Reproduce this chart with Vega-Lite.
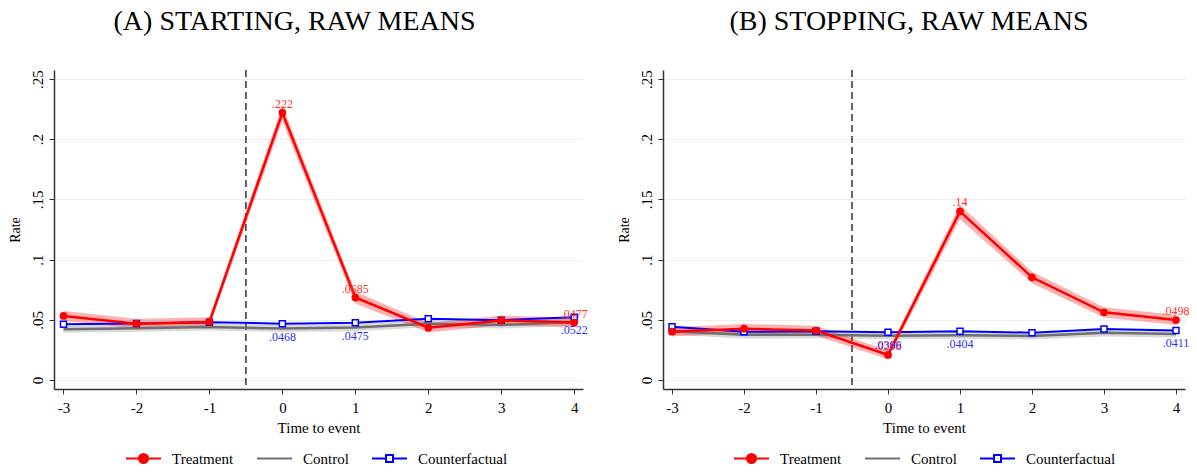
{
  "$schema": "https://vega.github.io/schema/vega-lite/v6.json",
  "padding": {"left": 8, "top": 8, "right": 0, "bottom": 0},
  "spacing": 29,
  "config": {
    "font": "Liberation Serif",
    "view": {"stroke": null},
    "axis": {"labelFont": "Liberation Serif", "titleFont": "Liberation Serif", "labelFontSize": 15, "titleFontSize": 15, "titleFontWeight": "normal", "domainColor": "#333333", "tickColor": "#333333", "labelColor": "#000000", "titleColor": "#000000", "domainWidth": 1.5},
    "title": {"font": "Liberation Serif", "fontSize": 28, "fontWeight": "normal", "color": "#000000", "anchor": "middle", "offset": 33}
  },
  "datasets": {
    "rates": [
      {"p": "A", "s": "Treatment", "t": -3, "y": 0.0532, "lo": 0.0492, "hi": 0.0572, "label": ""},
      {"p": "A", "s": "Treatment", "t": -2, "y": 0.0468, "lo": 0.0428, "hi": 0.0508, "label": ""},
      {"p": "A", "s": "Treatment", "t": -1, "y": 0.0482, "lo": 0.0442, "hi": 0.0522, "label": ""},
      {"p": "A", "s": "Treatment", "t": 0, "y": 0.222, "lo": 0.215, "hi": 0.228, "label": ".222"},
      {"p": "A", "s": "Treatment", "t": 1, "y": 0.0685, "lo": 0.0635, "hi": 0.0732, "label": ".0685"},
      {"p": "A", "s": "Treatment", "t": 2, "y": 0.0434, "lo": 0.0394, "hi": 0.0474, "label": ""},
      {"p": "A", "s": "Treatment", "t": 3, "y": 0.0495, "lo": 0.0455, "hi": 0.0535, "label": ""},
      {"p": "A", "s": "Treatment", "t": 4, "y": 0.0477, "lo": 0.0437, "hi": 0.0517, "label": ".0477"},
      {"p": "A", "s": "Control", "t": -3, "y": 0.0422, "lo": 0.0392, "hi": 0.0452, "label": ""},
      {"p": "A", "s": "Control", "t": -2, "y": 0.043, "lo": 0.04, "hi": 0.046, "label": ""},
      {"p": "A", "s": "Control", "t": -1, "y": 0.044, "lo": 0.041, "hi": 0.047, "label": ""},
      {"p": "A", "s": "Control", "t": 0, "y": 0.0428, "lo": 0.0398, "hi": 0.0458, "label": ""},
      {"p": "A", "s": "Control", "t": 1, "y": 0.0435, "lo": 0.0405, "hi": 0.0465, "label": ""},
      {"p": "A", "s": "Control", "t": 2, "y": 0.0468, "lo": 0.0438, "hi": 0.0498, "label": ""},
      {"p": "A", "s": "Control", "t": 3, "y": 0.0457, "lo": 0.0427, "hi": 0.0487, "label": ""},
      {"p": "A", "s": "Control", "t": 4, "y": 0.0482, "lo": 0.0452, "hi": 0.0512, "label": ""},
      {"p": "A", "s": "Counterfactual", "t": -3, "y": 0.0462, "label": ""},
      {"p": "A", "s": "Counterfactual", "t": -2, "y": 0.047, "label": ""},
      {"p": "A", "s": "Counterfactual", "t": -1, "y": 0.048, "label": ""},
      {"p": "A", "s": "Counterfactual", "t": 0, "y": 0.0468, "label": ".0468"},
      {"p": "A", "s": "Counterfactual", "t": 1, "y": 0.0475, "label": ".0475"},
      {"p": "A", "s": "Counterfactual", "t": 2, "y": 0.0508, "label": ""},
      {"p": "A", "s": "Counterfactual", "t": 3, "y": 0.0497, "label": ""},
      {"p": "A", "s": "Counterfactual", "t": 4, "y": 0.0522, "label": ".0522"},
      {"p": "B", "s": "Treatment", "t": -3, "y": 0.0401, "lo": 0.0363, "hi": 0.0439, "label": ""},
      {"p": "B", "s": "Treatment", "t": -2, "y": 0.0426, "lo": 0.0386, "hi": 0.0466, "label": ""},
      {"p": "B", "s": "Treatment", "t": -1, "y": 0.041, "lo": 0.037, "hi": 0.045, "label": ""},
      {"p": "B", "s": "Treatment", "t": 0, "y": 0.0208, "lo": 0.0173, "hi": 0.0243, "label": ".0208"},
      {"p": "B", "s": "Treatment", "t": 1, "y": 0.14, "lo": 0.1335, "hi": 0.1455, "label": ".14"},
      {"p": "B", "s": "Treatment", "t": 2, "y": 0.0853, "lo": 0.0803, "hi": 0.0898, "label": ""},
      {"p": "B", "s": "Treatment", "t": 3, "y": 0.0562, "lo": 0.0518, "hi": 0.0604, "label": ""},
      {"p": "B", "s": "Treatment", "t": 4, "y": 0.0498, "lo": 0.0456, "hi": 0.054, "label": ".0498"},
      {"p": "B", "s": "Control", "t": -3, "y": 0.0405, "lo": 0.0375, "hi": 0.0435, "label": ""},
      {"p": "B", "s": "Control", "t": -2, "y": 0.0375, "lo": 0.0345, "hi": 0.0405, "label": ""},
      {"p": "B", "s": "Control", "t": -1, "y": 0.0376, "lo": 0.0346, "hi": 0.0406, "label": ""},
      {"p": "B", "s": "Control", "t": 0, "y": 0.0368, "lo": 0.0338, "hi": 0.0398, "label": ""},
      {"p": "B", "s": "Control", "t": 1, "y": 0.0372, "lo": 0.0342, "hi": 0.0402, "label": ""},
      {"p": "B", "s": "Control", "t": 2, "y": 0.0366, "lo": 0.0336, "hi": 0.0396, "label": ""},
      {"p": "B", "s": "Control", "t": 3, "y": 0.0392, "lo": 0.0362, "hi": 0.0422, "label": ""},
      {"p": "B", "s": "Control", "t": 4, "y": 0.0382, "lo": 0.0352, "hi": 0.0412, "label": ""},
      {"p": "B", "s": "Counterfactual", "t": -3, "y": 0.0443, "label": ""},
      {"p": "B", "s": "Counterfactual", "t": -2, "y": 0.04, "label": ""},
      {"p": "B", "s": "Counterfactual", "t": -1, "y": 0.0405, "label": ""},
      {"p": "B", "s": "Counterfactual", "t": 0, "y": 0.0396, "label": ".0396"},
      {"p": "B", "s": "Counterfactual", "t": 1, "y": 0.0404, "label": ".0404"},
      {"p": "B", "s": "Counterfactual", "t": 2, "y": 0.0393, "label": ""},
      {"p": "B", "s": "Counterfactual", "t": 3, "y": 0.0424, "label": ""},
      {"p": "B", "s": "Counterfactual", "t": 4, "y": 0.0411, "label": ".0411"}
    ]
  },
  "resolve": {"scale": {"stroke": "independent"}, "legend": {"stroke": "independent"}},
  "hconcat": [
    {
      "width": 529,
      "height": 319,
      "title": {"text": "(A) STARTING, RAW MEANS", "dx": -24},
      "data": {"name": "rates"},
      "layer": [
        {
          "data": {"values": [{"event": -0.5}]},
          "mark": {"type": "rule", "strokeDash": [7, 4], "color": "#333333", "strokeWidth": 1.5},
          "encoding": {
            "x": {"field": "event", "type": "quantitative", "scale": {"domain": [-3.13, 4.12], "nice": false, "zero": false},
              "axis": {"values": [-3, -2, -1, 0, 1, 2, 3, 4], "grid": false, "title": "Time to event", "tickSize": 5, "labelPadding": 6, "titlePadding": 5, "labelExpr": "'' + datum.value"}}
          }
        },
        {
          "transform": [{"filter": "datum.p === 'A' && datum.s === 'Control'"}],
          "mark": {"type": "area", "color": "#808080", "opacity": 0.3},
          "encoding": {
            "x": {"field": "t", "type": "quantitative"},
            "y": {"field": "lo", "type": "quantitative", "scale": {"domain": [-0.0075, 0.2575], "nice": false, "zero": false},
              "axis": {"values": [0, 0.05, 0.1, 0.15, 0.2, 0.25], "labelExpr": "datum.value == 0 ? '0' : replace(format(datum.value, '.2~f'), '0.', '.')", "labelAngle": -90, "title": "Rate", "gridColor": "#eeeeee", "tickSize": 5, "labelPadding": 4, "titlePadding": 8, "titleFontSize": 14}},
            "y2": {"field": "hi"}
          }
        },
        {
          "transform": [{"filter": "datum.p === 'A' && datum.s === 'Treatment'"}],
          "mark": {"type": "area", "color": "#ff0000", "opacity": 0.3},
          "encoding": {
            "x": {"field": "t", "type": "quantitative"},
            "y": {"field": "lo", "type": "quantitative"},
            "y2": {"field": "hi"}
          }
        },
        {
          "transform": [{"filter": "datum.p === 'A' && datum.s === 'Control'"}],
          "mark": {"type": "line", "strokeWidth": 2.5},
          "encoding": {
            "x": {"field": "t", "type": "quantitative"},
            "y": {"field": "y", "type": "quantitative"},
            "stroke": {"field": "s", "type": "nominal",
              "scale": {"domain": ["Treatment", "Control", "Counterfactual"], "range": ["#ff0000", "#707070", "#0000ff"]},
              "legend": {"title": null, "orient": "none", "legendX": 71, "legendY": 370, "direction": "horizontal", "gridAlign": "none", "symbolSize": 1225, "labelFont": "Liberation Serif", "labelFontSize": 15, "labelColor": "#000000", "labelOffset": 10, "columnPadding": 19,
                "encode": {"symbols": {"update": {
                  "shape": {"signal": "datum.value === 'Treatment' ? 'M-1,0H-0.26M0.26,0H1M-0.26,0A0.26,0.26 0 1,1 0.26,0A0.26,0.26 0 1,1 -0.26,0Z' : datum.value === 'Control' ? 'M-1,0H1' : 'M-1,0H-0.2M0.2,0H1M-0.2,-0.2H0.2V0.2H-0.2Z'"},
                  "fill": {"signal": "datum.value === 'Treatment' ? '#ff0000' : datum.value === 'Counterfactual' ? '#ffffff' : 'transparent'"},
                  "stroke": {"signal": "datum.value === 'Treatment' ? '#ff0000' : datum.value === 'Control' ? '#808080' : '#0000ff'"},
                  "strokeWidth": {"value": 2},
                  "opacity": {"value": 1}
                }}}}
            }
          }
        },
        {
          "transform": [{"filter": "datum.p === 'A' && datum.s === 'Counterfactual'"}],
          "mark": {"type": "line", "strokeWidth": 2},
          "encoding": {
            "x": {"field": "t", "type": "quantitative"},
            "y": {"field": "y", "type": "quantitative"},
            "stroke": {"field": "s", "type": "nominal"}
          }
        },
        {
          "transform": [{"filter": "datum.p === 'A' && datum.s === 'Counterfactual'"}],
          "mark": {"type": "point", "shape": "square", "filled": true, "fill": "#ffffff", "stroke": "#0000ff", "strokeWidth": 1.5, "size": 36, "opacity": 1},
          "encoding": {
            "x": {"field": "t", "type": "quantitative"},
            "y": {"field": "y", "type": "quantitative"}
          }
        },
        {
          "transform": [{"filter": "datum.p === 'A' && datum.s === 'Treatment'"}],
          "mark": {"type": "line", "strokeWidth": 2.5},
          "encoding": {
            "x": {"field": "t", "type": "quantitative"},
            "y": {"field": "y", "type": "quantitative"},
            "stroke": {"field": "s", "type": "nominal"}
          }
        },
        {
          "transform": [{"filter": "datum.p === 'A' && datum.s === 'Treatment'"}],
          "mark": {"type": "point", "shape": "circle", "filled": true, "color": "#ff0000", "size": 60, "opacity": 1},
          "encoding": {
            "x": {"field": "t", "type": "quantitative"},
            "y": {"field": "y", "type": "quantitative"}
          }
        },
        {
          "transform": [{"filter": "datum.p === 'A' && datum.s === 'Treatment' && datum.label !== ''"}],
          "mark": {"type": "text", "font": "Liberation Serif", "fontSize": 12, "color": "#ff3030", "baseline": "middle", "dy": -9},
          "encoding": {
            "x": {"field": "t", "type": "quantitative"},
            "y": {"field": "y", "type": "quantitative"},
            "text": {"field": "label"}
          }
        },
        {
          "transform": [{"filter": "datum.p === 'A' && datum.s === 'Counterfactual' && datum.label !== ''"}],
          "mark": {"type": "text", "font": "Liberation Serif", "fontSize": 12, "color": "#3030ff", "baseline": "middle", "dy": 13},
          "encoding": {
            "x": {"field": "t", "type": "quantitative"},
            "y": {"field": "y", "type": "quantitative"},
            "text": {"field": "label"}
          }
        }
      ]
    },
    {
      "width": 522,
      "height": 319,
      "title": {"text": "(B) STOPPING, RAW MEANS", "dx": -15},
      "data": {"name": "rates"},
      "layer": [
        {
          "data": {"values": [{"event": -0.5}]},
          "mark": {"type": "rule", "strokeDash": [7, 4], "color": "#333333", "strokeWidth": 1.5},
          "encoding": {
            "x": {"field": "event", "type": "quantitative", "scale": {"domain": [-3.125, 4.125], "nice": false, "zero": false},
              "axis": {"values": [-3, -2, -1, 0, 1, 2, 3, 4], "grid": false, "title": "Time to event", "tickSize": 5, "labelPadding": 6, "titlePadding": 5, "labelExpr": "'' + datum.value"}}
          }
        },
        {
          "transform": [{"filter": "datum.p === 'B' && datum.s === 'Control'"}],
          "mark": {"type": "area", "color": "#808080", "opacity": 0.3},
          "encoding": {
            "x": {"field": "t", "type": "quantitative"},
            "y": {"field": "lo", "type": "quantitative", "scale": {"domain": [-0.0075, 0.2575], "nice": false, "zero": false},
              "axis": {"values": [0, 0.05, 0.1, 0.15, 0.2, 0.25], "labelExpr": "datum.value == 0 ? '0' : replace(format(datum.value, '.2~f'), '0.', '.')", "labelAngle": -90, "title": "Rate", "gridColor": "#eeeeee", "tickSize": 5, "labelPadding": 4, "titlePadding": 8, "titleFontSize": 14}},
            "y2": {"field": "hi"}
          }
        },
        {
          "transform": [{"filter": "datum.p === 'B' && datum.s === 'Treatment'"}],
          "mark": {"type": "area", "color": "#ff0000", "opacity": 0.3},
          "encoding": {
            "x": {"field": "t", "type": "quantitative"},
            "y": {"field": "lo", "type": "quantitative"},
            "y2": {"field": "hi"}
          }
        },
        {
          "transform": [{"filter": "datum.p === 'B' && datum.s === 'Control'"}],
          "mark": {"type": "line", "strokeWidth": 2.5},
          "encoding": {
            "x": {"field": "t", "type": "quantitative"},
            "y": {"field": "y", "type": "quantitative"},
            "stroke": {"field": "s", "type": "nominal",
              "scale": {"domain": ["Treatment", "Control", "Counterfactual"], "range": ["#ff0000", "#707070", "#0000ff"]},
              "legend": {"title": null, "orient": "none", "legendX": 70, "legendY": 370, "direction": "horizontal", "gridAlign": "none", "symbolSize": 1225, "labelFont": "Liberation Serif", "labelFontSize": 15, "labelColor": "#000000", "labelOffset": 10, "columnPadding": 19,
                "encode": {"symbols": {"update": {
                  "shape": {"signal": "datum.value === 'Treatment' ? 'M-1,0H-0.26M0.26,0H1M-0.26,0A0.26,0.26 0 1,1 0.26,0A0.26,0.26 0 1,1 -0.26,0Z' : datum.value === 'Control' ? 'M-1,0H1' : 'M-1,0H-0.2M0.2,0H1M-0.2,-0.2H0.2V0.2H-0.2Z'"},
                  "fill": {"signal": "datum.value === 'Treatment' ? '#ff0000' : datum.value === 'Counterfactual' ? '#ffffff' : 'transparent'"},
                  "stroke": {"signal": "datum.value === 'Treatment' ? '#ff0000' : datum.value === 'Control' ? '#808080' : '#0000ff'"},
                  "strokeWidth": {"value": 2},
                  "opacity": {"value": 1}
                }}}}
            }
          }
        },
        {
          "transform": [{"filter": "datum.p === 'B' && datum.s === 'Counterfactual'"}],
          "mark": {"type": "line", "strokeWidth": 2},
          "encoding": {
            "x": {"field": "t", "type": "quantitative"},
            "y": {"field": "y", "type": "quantitative"},
            "stroke": {"field": "s", "type": "nominal"}
          }
        },
        {
          "transform": [{"filter": "datum.p === 'B' && datum.s === 'Counterfactual'"}],
          "mark": {"type": "point", "shape": "square", "filled": true, "fill": "#ffffff", "stroke": "#0000ff", "strokeWidth": 1.5, "size": 36, "opacity": 1},
          "encoding": {
            "x": {"field": "t", "type": "quantitative"},
            "y": {"field": "y", "type": "quantitative"}
          }
        },
        {
          "transform": [{"filter": "datum.p === 'B' && datum.s === 'Treatment'"}],
          "mark": {"type": "line", "strokeWidth": 2.5},
          "encoding": {
            "x": {"field": "t", "type": "quantitative"},
            "y": {"field": "y", "type": "quantitative"},
            "stroke": {"field": "s", "type": "nominal"}
          }
        },
        {
          "transform": [{"filter": "datum.p === 'B' && datum.s === 'Treatment'"}],
          "mark": {"type": "point", "shape": "circle", "filled": true, "color": "#ff0000", "size": 60, "opacity": 1},
          "encoding": {
            "x": {"field": "t", "type": "quantitative"},
            "y": {"field": "y", "type": "quantitative"}
          }
        },
        {
          "transform": [{"filter": "datum.p === 'B' && datum.s === 'Treatment' && datum.label !== ''"}],
          "mark": {"type": "text", "font": "Liberation Serif", "fontSize": 12, "color": "#ff3030", "baseline": "middle", "dy": -9},
          "encoding": {
            "x": {"field": "t", "type": "quantitative"},
            "y": {"field": "y", "type": "quantitative"},
            "text": {"field": "label"}
          }
        },
        {
          "transform": [{"filter": "datum.p === 'B' && datum.s === 'Counterfactual' && datum.label !== ''"}],
          "mark": {"type": "text", "font": "Liberation Serif", "fontSize": 12, "color": "#3030ff", "baseline": "middle", "dy": 13},
          "encoding": {
            "x": {"field": "t", "type": "quantitative"},
            "y": {"field": "y", "type": "quantitative"},
            "text": {"field": "label"}
          }
        }
      ]
    }
  ]
}
